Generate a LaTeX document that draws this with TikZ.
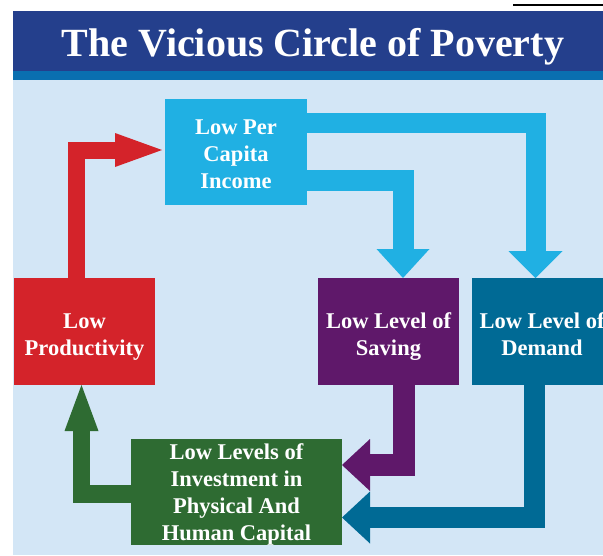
\documentclass[tikz,border=0pt]{standalone}
\usepackage{fontspec}
\setmainfont{Liberation Serif}
\usetikzlibrary{arrows.meta}
\definecolor{hdr}{RGB}{36,63,140}
\definecolor{strip}{RGB}{10,111,176}
\definecolor{bgl}{RGB}{211,230,246}
\definecolor{cy}{RGB}{32,176,227}
\definecolor{rd}{RGB}{212,35,42}
\definecolor{pu}{RGB}{95,24,106}
\definecolor{tl}{RGB}{0,106,149}
\definecolor{gr}{RGB}{46,107,50}
\begin{document}
\begin{tikzpicture}[x=1pt,y=-1pt,
  box/.style={rectangle, inner sep=0pt, outer sep=0pt, align=center, text=white,
    font=\fontsize{22.5}{27}\selectfont\bfseries, minimum height=107pt,
    text depth=0pt, text height=48pt},
  blk/.style args={#1/#2/#3/#4}{draw=#1, line width=#2,
    -{Triangle[width=#3,length=#4,line width=0pt]}}
]
\fill[white] (0,0) rectangle (603,555);
\useasboundingbox (0,0) rectangle (603,555);
\fill[bgl] (13,80) rectangle (603,555);
\fill[hdr] (13,11) rectangle (603,71);
\fill[strip] (13,71) rectangle (603,80);
\draw[line width=1.2pt] (513,5) -- (603,5);
\node[anchor=base, text=white, inner sep=0pt, font=\fontsize{40}{48}\selectfont\bfseries] (title) at (313,56) {The Vicious Circle of Poverty};

\node[box, fill=cy, minimum width=142pt, minimum height=106pt, text height=73pt] (inc) at (236,152) {Low Per\\Capita\\Income};
\node[box, fill=rd, minimum width=141pt] (low) at (84.5,331.5) {Low\\Productivity};
\node[box, fill=pu, minimum width=141pt] (sav) at (388.5,331.5) {Low Level of\\Saving};
\node[box, fill=tl, minimum width=140pt] (dem) at (542,331.5) {Low Level of\\Demand};
\node[box, fill=gr, minimum width=211pt, minimum height=106pt, text height=96pt] (inv) at (236.5,492) {Low Levels of\\Investment in\\Physical And\\Human Capital};

\draw[blk=rd/17pt/34pt/47pt, shorten >=3pt] (low.north -| 76,0) |- (inc.west |- 0,150);
\draw[blk=cy/20pt/54pt/27pt] (inc.east |- 0,123) -| (dem.north -| 535.5,0);
\draw[blk=cy/21pt/53pt/29pt] (inc.east |- 0,180.5) -| (sav.north -| 403,0);
\draw[blk=pu/22pt/52pt/28pt] (sav.south -| 403.5,0) |- (inv.east |- 0,465);
\draw[blk=tl/21pt/52pt/28pt] (dem.south -| 534,0) |- (inv.east |- 0,517.5);
\draw[blk=gr/17.5pt/34pt/46pt] (inv.west |- 0,494) -| (low.south -| 81.5,0);
\end{tikzpicture}
\end{document}
